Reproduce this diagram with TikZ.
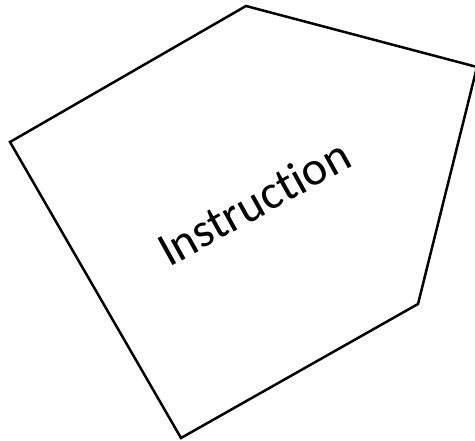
\documentclass[tikz,border=0pt]{standalone}
\usepackage{fontspec}
\setmainfont[Ligatures={NoCommon,NoRare}]{Carlito}
\begin{document}
\begin{tikzpicture}[x=1pt,y=-1pt,
  shapeline/.style={draw=black,line width=2.5pt,line join=miter},
  lbl/.style={font=\fontsize{48}{54}\selectfont,inner sep=0pt,rotate=29,anchor=base west}]
\useasboundingbox (0,0) rectangle (475,441);
\coordinate (p1) at (246,6);
\coordinate (p2) at (477,67);
\coordinate (p3) at (418,304);
\coordinate (p4) at (181,438);
\coordinate (p5) at (10,142);
\draw[shapeline] (p1) -- (p2) -- (p3) -- (p4) -- (p5) -- cycle;
\node[lbl] (t) at (169,268) {Instruction};
\end{tikzpicture}
\end{document}
